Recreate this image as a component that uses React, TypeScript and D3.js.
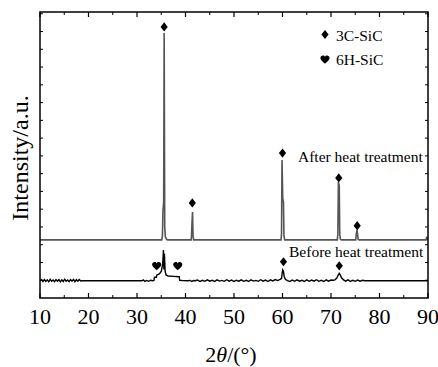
import React from "react";
import * as d3 from "d3";

const xTicks = [10, 20, 30, 40, 50, 60, 70, 80, 90];
const xMinorTicks = [15, 25, 35, 45, 55, 65, 75, 85];
const yTicks = d3.range(1, 17);

// After heat treatment trace [2theta, intensity a.u.]
const afterSeries: [number, number][] = [
  [10, 3.27], [35.1, 3.27], [35.25, 3.5], [35.35, 4.9], [35.5, 5.4], [35.6, 14.92], [35.72, 4.0], [35.85, 3.45], [36.1, 3.3], [36.3, 3.27],
  [41.2, 3.27], [41.32, 4.1], [41.45, 4.84], [41.55, 3.5], [41.7, 3.27],
  [59.7, 3.27], [59.8, 3.6], [59.9, 7.77], [60.05, 5.6], [60.2, 5.4], [60.3, 3.5], [60.45, 3.27],
  [71.3, 3.27], [71.42, 3.6], [71.52, 6.53], [71.7, 6.3], [71.8, 3.6], [71.95, 3.3], [72.2, 3.27],
  [75.1, 3.27], [75.22, 3.6], [75.35, 3.83], [75.48, 3.6], [75.6, 3.3], [75.8, 3.27],
  [89.6, 3.27], [89.75, 3.45], [89.9, 3.3], [90, 3.27],
];

// Before heat treatment trace
const beforeSeries: [number, number][] = [
  [10, 0.97], [10.3, 1.03], [10.6, 0.92], [10.9, 1.04], [11.2, 0.93], [11.5, 1.02], [11.8, 0.91], [12.1, 1.05], [12.4, 0.94], [12.7, 1.01],
  [13.0, 0.92], [13.3, 1.04], [13.6, 0.95], [13.9, 1.03], [14.2, 0.91], [14.5, 1.02], [14.8, 0.93], [15.1, 1.06], [15.4, 0.94], [15.7, 1.01],
  [16.0, 0.92], [16.3, 1.04], [16.6, 0.95], [16.9, 1.05], [17.2, 0.92], [17.5, 1.03], [17.8, 0.94], [18.1, 1.04], [18.4, 0.96], [18.7, 0.97],
  [31.0, 0.97], [31.3, 1.02], [31.6, 0.93], [32.0, 0.99], [32.4, 0.94], [32.8, 1.0], [33.2, 0.97],
  [33.5, 0.99], [33.6, 1.17], [34.0, 1.17], [34.1, 1.3], [34.6, 1.36], [35.0, 1.5], [35.3, 1.9], [35.45, 2.7], [35.55, 1.6], [35.65, 2.5],
  [35.8, 1.5], [36.0, 1.3], [36.4, 1.24], [37.5, 1.22], [38.7, 1.2], [38.8, 1.0], [39.5, 0.98], [40.5, 0.97], [41.0, 0.99], [41.3, 0.93],
  [41.6, 0.98], [42, 0.97], [42.5, 1.01], [43, 0.93], [43.5, 1.0], [44, 0.94], [44.5, 1.02], [45, 0.95], [45.5, 1.0], [46, 0.93],
  [46.5, 1.02], [47, 0.95], [47.5, 0.99], [48, 0.94], [48.5, 1.03], [49, 0.95], [49.5, 1.01], [50, 0.93], [50.5, 1.0], [51, 0.95],
  [51.5, 1.02], [52, 0.94], [52.5, 1.0], [53, 0.93], [53.5, 1.02], [54, 0.95], [54.5, 0.99], [55, 0.94], [55.5, 1.03], [56, 0.95],
  [56.5, 1.01], [57, 0.93], [57.5, 1.02], [58, 0.96], [58.5, 1.04], [59, 0.98], [59.5, 1.05],
  [59.8, 1.1], [59.95, 1.45], [60.05, 1.58], [60.2, 1.5], [60.35, 1.2], [60.6, 1.05], [61, 0.98],
  [61.5, 0.93], [62, 1.01], [62.5, 0.94], [63, 1.02], [63.5, 0.95], [64, 1.0], [64.5, 0.93], [65, 1.02], [65.5, 0.94], [66, 1.01],
  [66.5, 0.95], [67, 1.03], [67.5, 0.94], [68, 1.0], [68.5, 0.93], [69, 1.02], [69.5, 0.95], [70, 1.01], [70.5, 1.0],
  [70.8, 1.02], [71.2, 1.12], [71.5, 1.3], [71.7, 1.39], [71.9, 1.3], [72.2, 1.12], [72.6, 1.02],
  [73, 0.95], [73.5, 1.02], [74, 0.93], [74.5, 1.0], [75, 0.94], [75.5, 1.01], [76, 0.95], [76.5, 1.0], [77, 0.97], [90, 0.97],
];

// 3C-SiC markers (diamond) and 6H-SiC markers (heart)
const diamondMarks: [number, number][] = [
  [35.6, 15.26], [41.4, 5.35], [60.0, 8.16], [71.6, 6.76], [75.4, 4.07],
  [60.2, 2.04], [71.7, 1.81],
];
const heartMarks: [number, number][] = [
  [34.06, 1.8], [38.4, 1.8],
];

const W = 438;
const H = 367;
const M = { left: 40, right: 428, top: 12, bottom: 298 };
const tf: React.CSSProperties = { fontFamily: '"Liberation Serif", "Times New Roman", Times, serif' };

const diamondPath = "M0,-4.6 L3.6,0 L0,4.6 L-3.6,0 Z";
const heartPath =
  "M0,4.2 C-1,3.2 -4.6,0.6 -4.6,-1.5 C-4.6,-3.6 -2.5,-4.6 -1.2,-3.9 C-0.5,-3.5 0,-2.7 0,-2.2 C0,-2.7 0.5,-3.5 1.2,-3.9 C2.5,-4.6 4.6,-3.6 4.6,-1.5 C4.6,0.6 1,3.2 0,4.2 Z";

export default function App() {
  const x = d3.scaleLinear().domain([10, 90]).range([M.left, M.right]);
  const y = d3.scaleLinear().domain([0, 16.1]).range([M.bottom, M.top]);
  const line = d3
    .line<[number, number]>()
    .x((d) => x(d[0]))
    .y((d) => y(d[1]));

  return (
    <svg
      width={W}
      height={H}
      style={{ position: "fixed", left: 0, top: 0, background: "#fff" }}
    >
      <rect x={0} y={0} width={W} height={H} fill="#fff" />
      <defs>
        <clipPath id="plot">
          <rect x={M.left} y={M.top} width={M.right - M.left} height={M.bottom - M.top} />
        </clipPath>
      </defs>
      <g clipPath="url(#plot)">
        <path d={line(afterSeries) || ""} fill="none" stroke="#555" strokeWidth={1.6} />
        <path d={line(beforeSeries) || ""} fill="none" stroke="#000" strokeWidth={1.4} />
      </g>
      {diamondMarks.map((d, i) => (
        <path key={"d" + i} d={diamondPath} transform={`translate(${x(d[0])},${y(d[1])})`} fill="#000" />
      ))}
      {heartMarks.map((d, i) => (
        <path key={"h" + i} d={heartPath} transform={`translate(${x(d[0])},${y(d[1])})`} fill="#000" />
      ))}
      <rect
        x={M.left}
        y={M.top}
        width={M.right - M.left}
        height={M.bottom - M.top}
        fill="none"
        stroke="#000"
        strokeWidth={1.5}
      />
      {xTicks.map((t) => (
        <g key={"xt" + t}>
          <line x1={x(t)} x2={x(t)} y1={M.bottom} y2={M.bottom - 5} stroke="#000" strokeWidth={1.2} />
          <line x1={x(t)} x2={x(t)} y1={M.top} y2={M.top + 5} stroke="#000" strokeWidth={1.2} />
          <text x={x(t)} y={324} textAnchor="middle" fontSize={22} fill="#000" style={tf}>
            {t}
          </text>
        </g>
      ))}
      {xMinorTicks.map((t) => (
        <g key={"xm" + t}>
          <line x1={x(t)} x2={x(t)} y1={M.bottom} y2={M.bottom - 3} stroke="#000" strokeWidth={1} />
          <line x1={x(t)} x2={x(t)} y1={M.top} y2={M.top + 3} stroke="#000" strokeWidth={1} />
        </g>
      ))}
      {yTicks.map((t) => (
        <g key={"yt" + t}>
          <line x1={M.left} x2={M.left + 3} y1={y(t)} y2={y(t)} stroke="#000" strokeWidth={1} />
          <line x1={M.right} x2={M.right - 3} y1={y(t)} y2={y(t)} stroke="#000" strokeWidth={1} />
        </g>
      ))}
      <path d={diamondPath} transform="translate(325,34.5)" fill="#000" />
      <text x={336} y={41} fontSize={15.5} fill="#000" style={tf}>3C-SiC</text>
      <path d={heartPath} transform="translate(325,59.5)" fill="#000" />
      <text x={336} y={64.5} fontSize={15.5} fill="#000" style={tf}>6H-SiC</text>
      <text x={298} y={162} fontSize={15.5} fill="#000" style={tf}>After heat treatment</text>
      <text x={289} y={257} fontSize={15.5} fill="#000" style={tf}>Before heat treatment</text>
      <text
        x={28}
        y={158}
        fontSize={24}
        textAnchor="middle"
        transform="rotate(-90,28,158)"
        fill="#000"
        style={tf}
      >
        Intensity/a.u.
      </text>
      <text x={231} y={362} fontSize={22} textAnchor="middle" fill="#000" style={tf}>
        2<tspan fontStyle="italic">θ</tspan>/(°)
      </text>
    </svg>
  );
}
